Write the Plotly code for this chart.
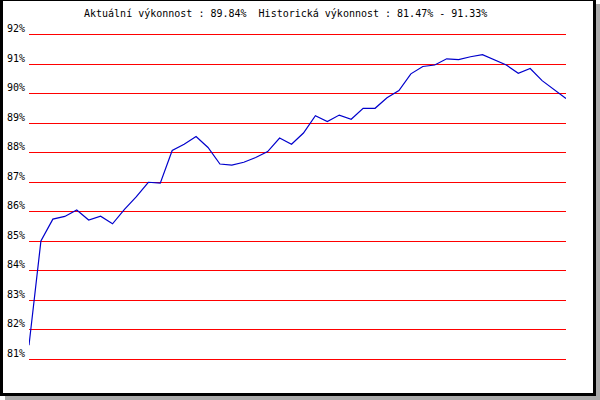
import plotly.graph_objects as go

# ---- data ----
points = list(range(46))
performance = [81.47, 85.01, 85.75, 85.84, 86.06, 85.72, 85.85, 85.59, 86.08, 86.51,
               87.00, 86.97, 88.08, 88.29, 88.55, 88.18, 87.62, 87.58, 87.68, 87.84,
               88.04, 88.50, 88.29, 88.67, 89.26, 89.06, 89.28, 89.14, 89.51, 89.51,
               89.87, 90.11, 90.68, 90.93, 90.98, 91.19, 91.16, 91.26, 91.33, 91.15,
               90.98, 90.70, 90.86, 90.45, 90.13, 89.84]
tick_values = [81, 82, 83, 84, 85, 86, 87, 88, 89, 90, 91, 92]
tick_labels = ["81%", "82%", "83%", "84%", "85%", "86%", "87%", "88%", "89%", "90%", "91%", "92%"]
title_text = "Aktuální výkonnost : 89.84%\u00a0 Historická výkonnost : 81.47% - 91.33%"

W, H = 600, 400
L, R, T, B = 29, 34, 32, 38
PW, PH = W - L - R, H - T - B


def px(x):
    return (x - L) / PW


def py(y):
    return (H - B - y) / PH


FONT = "DejaVu Sans Mono"

fig = go.Figure()
fig.add_trace(go.Scatter(
    x=points, y=performance, mode="lines",
    line=dict(color="#0000cc", width=1.2),
    hoverinfo="skip", showlegend=False,
))

shapes = [
    # shadow
    dict(type="rect", xref="paper", yref="paper", x0=px(5), x1=px(600), y0=py(4), y1=py(400),
         fillcolor="#aaaaaa", line=dict(width=0), layer="below"),
    # black frame
    dict(type="rect", xref="paper", yref="paper", x0=px(0), x1=px(596), y0=py(-2), y1=py(396),
         fillcolor="#000000", line=dict(width=0), layer="below"),
    # inner white
    dict(type="rect", xref="paper", yref="paper", x0=px(3), x1=px(593), y0=py(1), y1=py(393),
         fillcolor="#ffffff", line=dict(width=0), layer="below"),
]

fig.update_layout(
    width=W, height=H,
    margin=dict(l=L, r=R, t=T, b=B, pad=0, autoexpand=False),
    paper_bgcolor="#ffffff",
    plot_bgcolor="rgba(0,0,0,0)",
    shapes=shapes,
    annotations=[dict(
        text=title_text, xref="paper", yref="paper",
        x=px(82), y=py(13.3), xanchor="left", yanchor="middle",
        showarrow=False, font=dict(family=FONT, size=10, color="#000000"),
    )],
    xaxis=dict(range=[0, 45], showgrid=False, zeroline=False, showline=False,
               showticklabels=False, ticks="", fixedrange=True, automargin=False),
    yaxis=dict(range=[80.9, 92.1], tickvals=tick_values, ticktext=tick_labels,
               showgrid=True, gridcolor="#ff0000", gridwidth=1,
               zeroline=False, showline=False, ticks="",
               ticklabelshift=-6, ticklabelstandoff=3, automargin=False,
               tickfont=dict(family=FONT, size=10, color="#000000"),
               fixedrange=True),
)

fig.write_html("out.html", config={"displayModeBar": False},
               post_script="document.body.style.margin='0';document.body.style.overflow='hidden';")
